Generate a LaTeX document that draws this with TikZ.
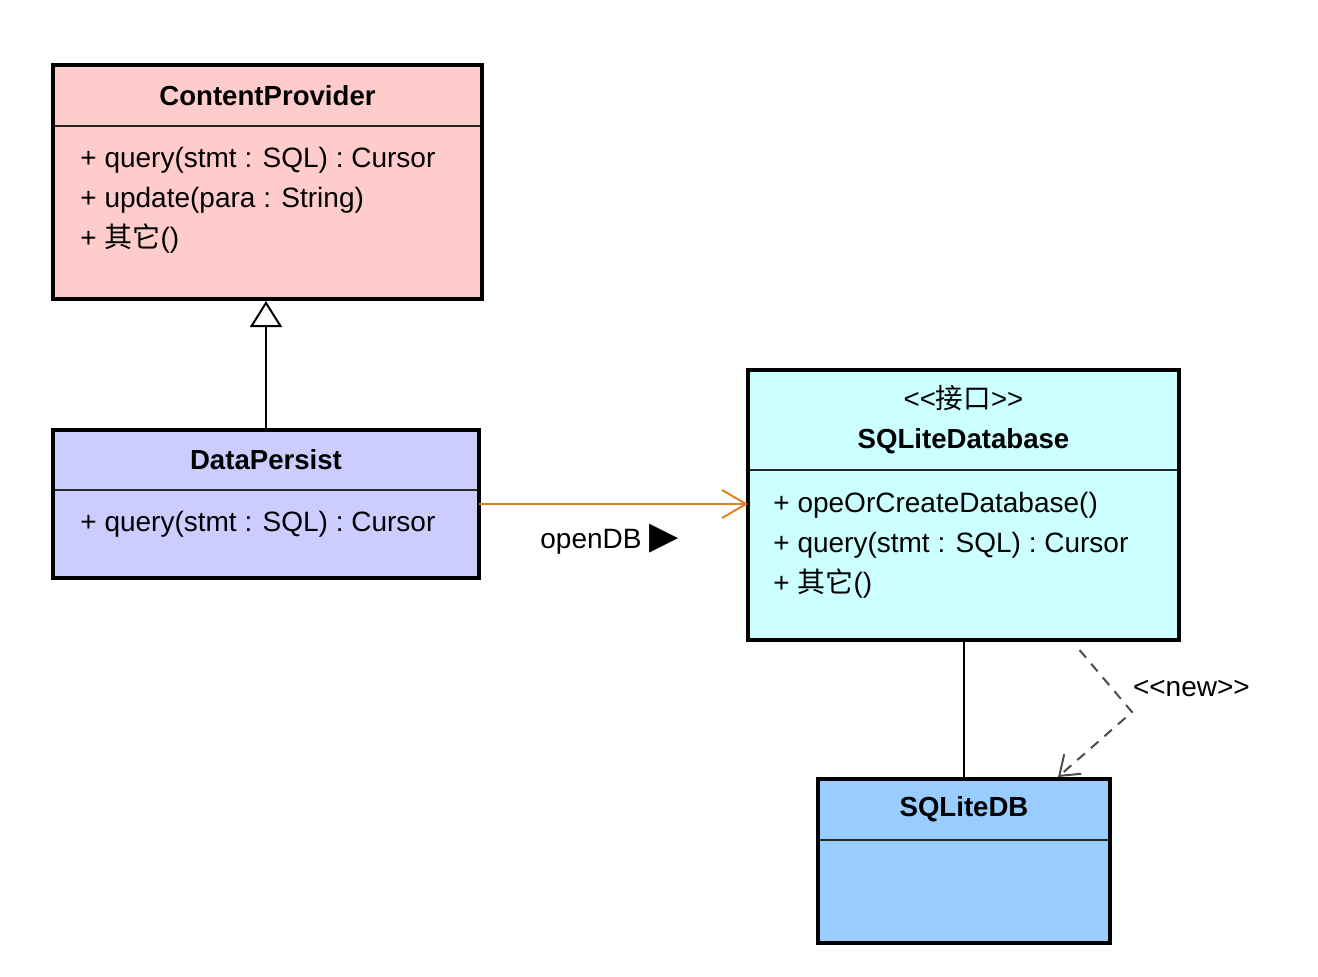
\documentclass[tikz,border=0pt]{standalone}
\usepackage{fontspec}
\setmainfont{Liberation Sans}
\newfontfamily\cjk{Noto Sans CJK SC}
\newfontfamily\symfont{DejaVu Sans}
\usetikzlibrary{positioning,arrows.meta}
\definecolor{cpPink}{RGB}{255,204,204}
\definecolor{dpLilac}{RGB}{204,204,255}
\definecolor{sdbCyan}{RGB}{204,255,255}
\definecolor{dbBlue}{RGB}{153,204,255}
\definecolor{openOrange}{RGB}{226,128,40}

\begin{document}
\begin{tikzpicture}[
    x=0.5pt, y=-0.5pt,
    font=\fontsize{14}{20}\selectfont,
    head/.style={anchor=north west, minimum height=30.5pt, outer sep=0pt, inner sep=0pt, align=center, font=\fontsize{13.8}{20}\selectfont\bfseries},
    body/.style={outer sep=0pt, inner sep=0pt},
    ops/.style={anchor=north west, align=left, inner sep=0pt},
    frame/.style={draw=black, line width=2pt},
    divider/.style={draw=black!85, line width=1pt},
    inherit/.style={-{Triangle[open, length=13pt, width=16pt, fill=white]}, line width=1pt},
    uses/.style={-{Straight Barb[length=12pt, width=14pt]}, draw=openOrange, line width=1pt},
    assoc/.style={draw=black, line width=1pt},
    create/.style={-{Straight Barb[length=9pt, width=13pt]}, draw=black!70, line width=1pt, dash pattern=on 5pt off 4pt}
  ]
    \useasboundingbox (0,0) rectangle (1318,976);

    \node[head, minimum width=214.5pt, fill=cpPink] (cpHead) at (53,65) {ContentProvider};
    \node[body, minimum width=214.5pt, minimum height=86.5pt, fill=cpPink, below=0pt of cpHead] (cpBody) {};
    \node[ops] (cpOps) at ([xshift=13.5pt, yshift=-10.5pt]cpBody.north west) {+ query(stmt : SQL) : Cursor\\+ update(para : String)\\+ {\cjk 其它}()};

    \node[head, minimum width=213pt, minimum height=30pt, fill=dpLilac] (dpHead) at (53,430) {DataPersist};
    \node[body, minimum width=213pt, minimum height=44pt, fill=dpLilac, below=0pt of dpHead] (dpBody) {};
    \node[ops] (dpOps) at ([xshift=13.5pt, yshift=-10.5pt]dpBody.north west) {+ query(stmt : SQL) : Cursor};

    \node[head, minimum width=215.5pt, minimum height=50pt, fill=sdbCyan] (sdbHead) at (748,370) {{\mdseries <{}<{\cjk 接口}>{}>}\\SQLiteDatabase};
    \node[body, minimum width=215.5pt, minimum height=85pt, fill=sdbCyan, below=0pt of sdbHead] (sdbBody) {};
    \node[ops] (sdbOps) at ([xshift=12.5pt, yshift=-11pt]sdbBody.north west) {+ opeOrCreateDatabase()\\+ query(stmt : SQL) : Cursor\\+ {\cjk 其它}()};

    \node[head, minimum width=146pt, fill=dbBlue] (dbHead) at (818,779) {SQLiteDB};
    \node[body, minimum width=146pt, minimum height=51.5pt, fill=dbBlue, below=0pt of dbHead] (dbBody) {};

    \draw[divider] (cpHead.south west) -- (cpHead.south east);
    \draw[divider] (dpHead.south west) -- (dpHead.south east);
    \draw[divider] (sdbHead.south west) -- (sdbHead.south east);
    \draw[divider] (dbHead.south west) -- (dbHead.south east);
    \draw[frame] (cpHead.north west) rectangle (cpBody.south east);
    \draw[frame] (dpHead.north west) rectangle (dpBody.south east);
    \draw[frame] (sdbHead.north west) rectangle (sdbBody.south east);
    \draw[frame] (dbHead.north west) rectangle (dbBody.south east);

    \draw[inherit, shorten >=1pt] (dpHead.north) -- (dpHead.north |- cpBody.south);

    \coordinate (openStart) at ([yshift=-7pt]dpBody.north east);
    \draw[uses] (openStart) -- (openStart -| sdbBody.west)
      node[midway, inner sep=0pt, xshift=-2pt, yshift=-17.5pt] {openDB {\symfont\fontsize{19}{19}\selectfont ▶}};

    \draw[assoc] (sdbBody.south) -- (sdbBody.south |- dbHead.north);

    \coordinate (newBend) at (1132,712);
    \draw[create] ([xshift=58pt, yshift=-5pt]sdbBody.south) -- (newBend)
      node[anchor=west, inner sep=0pt, yshift=12pt] {<{}<new>{}>}
      -- ([xshift=47pt, yshift=1pt]dbHead.north);
  \end{tikzpicture}
\end{document}
